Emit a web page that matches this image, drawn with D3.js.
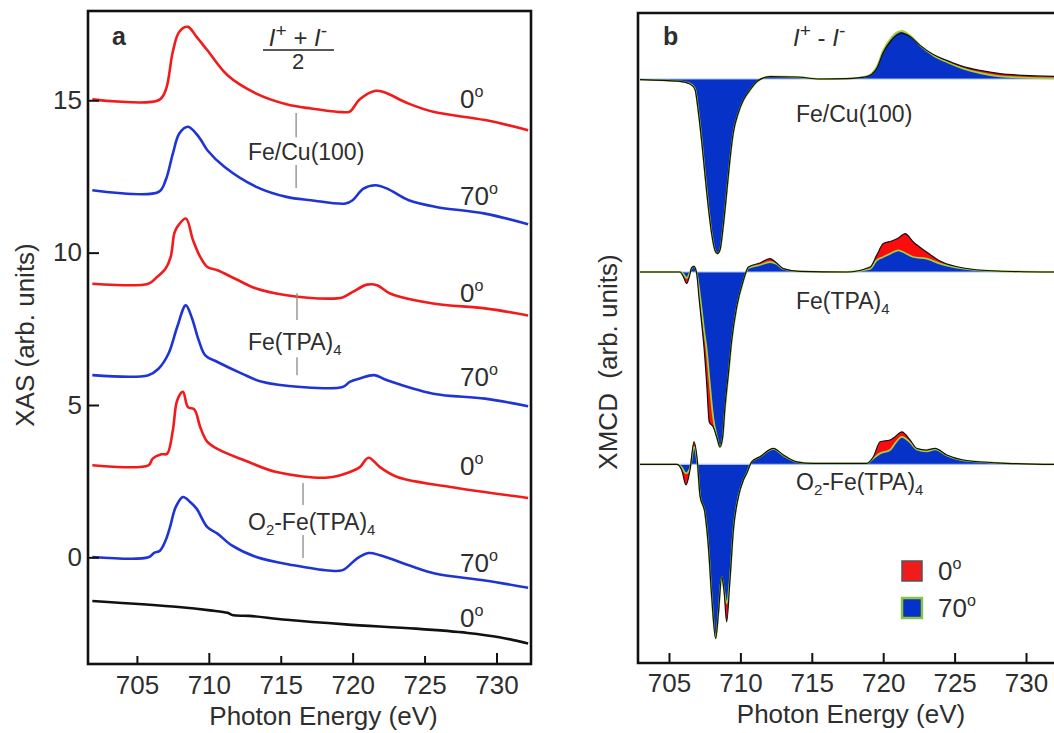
<!DOCTYPE html>
<html>
<head>
<meta charset="utf-8">
<script src="https://cdn.jsdelivr.net/npm/d3@7"></script>
<style>
  body { margin: 0; background: #fff; }
  text { font-family: "Liberation Sans", Arial, sans-serif; fill: #2e2e2e; }
</style>
</head>
<body>
<svg id="chart" width="1054" height="733"></svg>
<script>
// ---- data: panel a (XAS, (I+ + I-)/2), energies in eV ----
const feCu0E   = [701.9, 706.5, 707.0, 707.5, 707.95, 708.55, 709.15, 709.9, 711.3, 713.3, 715.4, 717.1, 719.3, 719.8, 720.5, 721.6, 722.2, 723.9, 725.6, 729.2, 732.2];
const feCu0    = [15.03, 15.0, 15.33, 16.6, 17.25, 17.41, 17.08, 16.64, 15.82, 15.22, 14.87, 14.73, 14.61, 14.63, 15.03, 15.31, 15.26, 14.89, 14.62, 14.35, 14.02];
const feCu70E  = [701.9, 706.5, 707.0, 707.5, 707.95, 708.55, 709.3, 709.9, 711.1, 713.3, 715.4, 717.1, 719.5, 720.0, 720.75, 721.6, 722.4, 723.9, 725.8, 729.2, 732.2];
const feCu70   = [12.05, 11.99, 12.38, 13.25, 13.91, 14.13, 13.8, 13.36, 12.81, 12.16, 11.83, 11.72, 11.61, 11.72, 12.1, 12.21, 12.1, 11.72, 11.5, 11.28, 10.93];
const feTpa0E  = [701.9, 705.8, 706.4, 707.0, 707.35, 707.6, 707.8, 708.4, 708.9, 709.4, 709.9, 710.6, 711.8, 713.3, 715.4, 718.3, 719.3, 720.0, 721.0, 721.7, 722.6, 725.6, 729.2, 732.2];
const feTpa0   = [8.98, 8.98, 9.2, 9.48, 9.86, 10.63, 10.84, 11.12, 10.41, 9.86, 9.53, 9.42, 9.15, 8.82, 8.6, 8.49, 8.53, 8.71, 8.95, 8.93, 8.66, 8.33, 8.17, 7.94];
const feTpa70E = [701.9, 705.8, 706.5, 707.2, 707.8, 708.4, 708.8, 709.3, 709.75, 710.6, 712.3, 713.7, 716.4, 719.3, 719.8, 720.5, 721.5, 722.4, 725.6, 729.2, 732.2];
const feTpa70  = [5.98, 5.98, 6.19, 6.69, 7.56, 8.27, 7.89, 7.12, 6.63, 6.41, 6.03, 5.76, 5.59, 5.59, 5.76, 5.87, 5.98, 5.81, 5.37, 5.21, 4.96];
const o2Tpa0E  = [701.9, 705.8, 706.1, 706.7, 707.1, 707.5, 707.8, 708.2, 708.55, 709.0, 709.4, 709.9, 710.8, 712.5, 714.7, 718.3, 719.8, 720.5, 721.1, 721.9, 723.1, 726.8, 732.2];
const o2Tpa0   = [3.02, 3.02, 3.24, 3.38, 3.4, 4.17, 5.15, 5.43, 4.93, 4.85, 4.28, 3.79, 3.51, 3.18, 2.8, 2.62, 2.8, 2.96, 3.27, 2.96, 2.64, 2.31, 1.95];
const o2Tpa70E = [701.9, 705.8, 706.2, 706.6, 707.0, 707.3, 707.7, 708.2, 708.7, 709.15, 709.9, 710.6, 711.6, 713.3, 715.9, 718.3, 719.3, 720.3, 721.1, 721.9, 723.9, 725.8, 729.2, 732.2];
const o2Tpa70  = [0.01, 0.0, 0.15, 0.22, 0.56, 0.99, 1.65, 1.98, 1.82, 1.6, 0.99, 0.78, 0.39, 0.01, -0.26, -0.43, -0.42, -0.04, 0.14, 0.07, -0.26, -0.54, -0.76, -1.0];
const refE     = [701.9, 707.9, 710.1, 711.3, 711.7, 712.8, 715.4, 719.5, 724.4, 728.0, 730.2, 732.2];
const ref0     = [-1.43, -1.63, -1.74, -1.82, -1.9, -1.92, -2.05, -2.2, -2.34, -2.48, -2.62, -2.83];

const xasAngles = ["0", "70", "0", "70", "0", "70", "0"];
const xasTicks = [0, 5, 10, 15];
const energyTicks = [705, 710, 715, 720, 725, 730];

// ---- data: panel b (XMCD, I+ - I-) ----
const xmcdFeCuE  = [702.97, 704.6, 705.77, 706.47, 706.82, 707.05, 707.29, 707.52, 707.76, 707.99, 708.22, 708.38, 708.57, 708.8, 709.04, 709.27, 709.5, 709.85, 710.21, 710.67, 711.14, 711.49, 712.07, 713.94, 715.58, 717.44, 718.84, 719.54, 720.0, 720.6, 721.3, 721.88, 722.58, 723.51, 724.45, 725.61, 726.78, 728.18, 729.82, 731.96];
const xmcdFeCu0  = [-0.03, -0.07, -0.12, -0.25, -0.52, -1.62, -3.12, -4.78, -6.45, -7.75, -8.57, -8.73, -8.55, -7.35, -5.68, -4.02, -2.7, -1.7, -1.05, -0.55, -0.14, 0.02, 0.12, 0.1, 0, 0.02, 0.12, 0.52, 1.32, 1.95, 2.28, 2.12, 1.68, 1.22, 0.93, 0.62, 0.43, 0.27, 0.18, 0.13];
const xmcdFeCu70 = [-0.03, -0.07, -0.12, -0.23, -0.48, -1.57, -3.07, -4.73, -6.4, -7.73, -8.57, -8.73, -8.57, -7.4, -5.73, -4.07, -2.73, -1.73, -1.07, -0.57, -0.15, 0.02, 0.13, 0.1, 0, 0.02, 0.13, 0.6, 1.43, 2.1, 2.4, 2.18, 1.68, 1.18, 0.85, 0.52, 0.3, 0.13, 0.07, 0.03];
const xmcdTpaE   = [702.97, 705.77, 706.0, 706.24, 706.42, 706.59, 706.75, 706.94, 707.12, 707.29, 707.45, 707.64, 707.82, 708.1, 708.34, 708.57, 708.76, 708.92, 709.16, 709.39, 709.74, 710.21, 710.56, 711.37, 712.07, 712.54, 713.01, 714.17, 717.44, 719.08, 719.54, 720.01, 720.59, 721.06, 721.53, 722.11, 723.04, 723.98, 725.61, 727.95, 731.96];
const xmcdTpa0   = [0, 0, -0.22, -0.58, -0.25, 0.22, 0.28, -0.08, -1.42, -2.58, -3.75, -5.58, -7.5, -7.75, -8.25, -8.75, -8.25, -6.75, -5.08, -3.42, -1.75, -0.42, 0.25, 0.45, 0.67, 0.45, 0.17, 0.03, 0, 0.25, 0.83, 1.42, 1.55, 1.7, 1.92, 1.5, 1.0, 0.55, 0.2, 0.05, 0];
const xmcdTpa70  = [0, 0, -0.1, -0.3, -0.1, 0.2, 0.28, -0.05, -0.9, -1.9, -2.9, -3.9, -5.3, -7.3, -8.2, -8.75, -8.3, -6.9, -5.2, -3.5, -1.8, -0.45, 0.2, 0.35, 0.5, 0.4, 0.15, 0.03, 0, 0.15, 0.58, 0.75, 0.95, 1.08, 0.95, 0.75, 0.67, 0.42, 0.17, 0.05, 0];
const xmcdO2E    = [702.97, 705.54, 705.89, 706.19, 706.47, 706.75, 706.98, 707.17, 707.52, 707.76, 707.99, 708.27, 708.46, 708.69, 708.85, 709.04, 709.27, 709.51, 709.86, 710.21, 710.44, 710.79, 711.37, 712.31, 713.01, 713.94, 715.11, 718.84, 719.31, 719.78, 720.48, 720.83, 721.3, 721.88, 722.35, 723.04, 723.63, 724.45, 725.61, 727.95, 731.96];
const xmcdO20    = [0, 0, -0.28, -1.03, -0.28, 1.13, 0.22, -1.55, -2.45, -4.12, -6.62, -8.7, -7.45, -5.62, -6.28, -7.87, -5.78, -3.28, -1.62, -0.78, -0.45, 0.13, 0.38, 0.8, 0.47, 0.13, 0.05, 0.05, 0.38, 1.13, 1.22, 1.38, 1.63, 1.22, 0.8, 0.72, 0.8, 0.47, 0.22, 0.08, 0];
const xmcdO270   = [0, 0, -0.15, -0.45, -0.2, 0.88, 0.1, -1.55, -2.45, -4.12, -6.62, -8.7, -7.45, -5.62, -6.28, -6.95, -5.7, -3.28, -1.62, -0.78, -0.45, 0.13, 0.38, 0.78, 0.45, 0.13, 0.05, 0.05, 0.3, 0.55, 0.72, 1.05, 1.38, 1.1, 0.75, 0.65, 0.75, 0.45, 0.2, 0.08, 0];
const xmcdOffsets = [29.2, 19.55, 9.93];
const legendLabels = ["0", "70"];

const svg = d3.select("#chart");
const font = "'Liberation Sans', Arial, sans-serif";

const zip = (xs, ys) => xs.map((x, i) => [x, ys[i]]);

// rich text: parts = [[text, "sub"|"sup"|"it"|null], ...]
function richText(g, x, y, parts, size, attrs = {}) {
  const t = g.append("text").attr("x", x).attr("y", y).attr("font-size", size);
  Object.entries(attrs).forEach(([k, v]) => t.attr(k, v));
  let shift = 0;
  parts.forEach(([s, kind]) => {
    const ts = t.append("tspan").text(s);
    let target = 0;
    if (kind === "sub") { target = size * 0.22; ts.attr("font-size", size * 0.65); }
    if (kind === "sup") { target = -size * 0.42; ts.attr("font-size", size * 0.62); }
    if (kind === "isup") { target = -size * 0.38; ts.attr("font-size", size * 0.8); }
    if (kind === "it") ts.attr("font-style", "italic");
    if (target - shift !== 0) ts.attr("dy", target - shift);
    shift = target;
  });
  return t;
}
const deg = n => [[n, null], ["o", "sup"]];

// ================= panel a =================
const xA = d3.scaleLinear().domain([701.6, 732.4]).range([88, 531]);
const yA = d3.scaleLinear().domain([-3.5, 17.93]).range([664, 11]);
const ga = svg.append("g");

const lineA = d3.line().x(d => xA(d[0])).y(d => yA(d[1])).curve(d3.curveCatmullRom.alpha(0.5));
const xasCurves = [
  [zip(feCu0E, feCu0), "#f21b1b"],
  [zip(feCu70E, feCu70), "#1e34d4"],
  [zip(feTpa0E, feTpa0), "#f21b1b"],
  [zip(feTpa70E, feTpa70), "#1e34d4"],
  [zip(o2Tpa0E, o2Tpa0), "#f21b1b"],
  [zip(o2Tpa70E, o2Tpa70), "#1e34d4"],
  [zip(refE, ref0), "#111"]
];
xasCurves.forEach(([d, c]) => {
  ga.append("path").datum(d).attr("d", lineA)
    .attr("fill", "none").attr("stroke", c).attr("stroke-width", 2.6)
    .attr("stroke-linejoin", "round");
});

// x axis (ticks inward)
ga.append("g").attr("transform", `translate(0,${yA.range()[0]})`)
  .call(d3.axisBottom(xA).tickValues(energyTicks).tickSize(-10).tickPadding(12).tickFormat(d3.format("d")))
  .call(g => g.select(".domain").remove())
  .call(g => g.selectAll(".tick line").attr("y2", d => d % 10 === 0 ? -11 : -8).attr("stroke", "#111").attr("stroke-width", 2))
  .call(g => g.selectAll(".tick text").attr("font-size", 26).attr("font-family", font).attr("fill", "#2e2e2e"));

ga.append("g").attr("transform", `translate(${xA.range()[0]},0)`)
  .call(d3.axisLeft(yA).tickValues(xasTicks).tickSize(-11).tickPadding(6).tickFormat(d3.format("d")))
  .call(g => g.select(".domain").remove())
  .call(g => g.selectAll(".tick line").attr("stroke", "#111").attr("stroke-width", 2))
  .call(g => g.selectAll(".tick text").attr("font-size", 26).attr("font-family", font).attr("fill", "#2e2e2e"));

ga.append("rect")
  .attr("x", xA.range()[0]).attr("y", yA.range()[1])
  .attr("width", xA.range()[1] - xA.range()[0]).attr("height", yA.range()[0] - yA.range()[1])
  .attr("fill", "none").attr("stroke", "#111").attr("stroke-width", 2.6);

// angle labels at the right end of each curve
const angleBaselines = [108, 205, 302, 386, 475, 572, 627];
xasAngles.forEach((a, i) => richText(ga, 460, angleBaselines[i], deg(a), 26));

// sample labels with split marker lines
const sampleMarks = [
  { e: 716.07, seg: [[14.58, 13.79], [12.88, 12.12]] },
  { e: 716.13, seg: [[8.67, 7.79], [6.57, 5.98]] },
  { e: 716.55, seg: [[2.44, 1.72], [0.73, -0.02]] }
];
sampleMarks.forEach(m => m.seg.forEach(([a, b]) => {
  ga.append("line").attr("x1", xA(m.e)).attr("x2", xA(m.e)).attr("y1", yA(a)).attr("y2", yA(b))
    .attr("stroke", "#8a8a8a").attr("stroke-width", 1.3);
}));
richText(ga, 248, 160, [["Fe/Cu(100)", null]], 23);
richText(ga, 248, 350, [["Fe(TPA)", null], ["4", "sub"]], 23);
richText(ga, 248, 530, [["O", null], ["2", "sub"], ["-Fe(TPA)", null], ["4", "sub"]], 23);

ga.append("text").attr("x", 112).attr("y", 45).attr("font-size", 25).attr("font-weight", "bold").attr("fill", "#111").text("a");
richText(ga, 298, 46, [["I", "it"], ["+", "isup"], [" + ", null], ["I", "it"], ["-", "isup"]], 24, { "text-anchor": "middle" });
ga.append("line").attr("x1", 263).attr("x2", 334).attr("y1", 50).attr("y2", 50).attr("stroke", "#222").attr("stroke-width", 1.5);
ga.append("text").attr("x", 298).attr("y", 69).attr("font-size", 22).attr("text-anchor", "middle").text("2");

ga.append("text").attr("transform", "translate(34,335) rotate(-90)").attr("text-anchor", "middle")
  .attr("font-size", 26).text("XAS (arb. units)");
ga.append("text").attr("x", (xA.range()[0] + xA.range()[1]) / 2 + 14).attr("y", 725).attr("text-anchor", "middle")
  .attr("font-size", 26).text("Photon Energy (eV)");

// ================= panel b =================
const xB = d3.scaleLinear().domain([702.83, 731.96]).range([638, 1054]);
const yB = d3.scaleLinear().domain([0, 32.5]).range([663, 13]);
const gb = svg.append("g");

const xmcdSets = [
  [zip(xmcdFeCuE, xmcdFeCu0), zip(xmcdFeCuE, xmcdFeCu70)],
  [zip(xmcdTpaE, xmcdTpa0), zip(xmcdTpaE, xmcdTpa70)],
  [zip(xmcdO2E, xmcdO20), zip(xmcdO2E, xmcdO270)]
];
xmcdSets.forEach(([d0, d70], i) => {
  const off = xmcdOffsets[i];
  const area = d3.area().x(d => xB(d[0])).y0(yB(off)).y1(d => yB(off + d[1])).curve(d3.curveMonotoneX);
  const line = d3.line().x(d => xB(d[0])).y(d => yB(off + d[1])).curve(d3.curveMonotoneX);
  gb.append("path").datum(d0).attr("d", area).attr("fill", "#fb0d0d");
  gb.append("path").datum(d70).attr("d", area).attr("fill", "#0632c8");
  gb.append("line").attr("x1", xB(d0[0][0])).attr("x2", xB(d0[d0.length - 1][0]))
    .attr("y1", yB(off)).attr("y2", yB(off)).attr("stroke", "#a9bdf2").attr("stroke-width", 1.2);
  gb.append("path").datum(d70).attr("d", line).attr("fill", "none").attr("stroke", "#a6cf38").attr("stroke-width", 1.8);
  gb.append("path").datum(d0).attr("d", line).attr("fill", "none").attr("stroke", "#111").attr("stroke-width", 1.2);
});

gb.append("g").attr("transform", `translate(0,${yB.range()[0]})`)
  .call(d3.axisBottom(xB).tickValues(energyTicks).tickSize(-10).tickPadding(11).tickFormat(d3.format("d")))
  .call(g => g.select(".domain").remove())
  .call(g => g.selectAll(".tick line").attr("stroke", "#111").attr("stroke-width", 2))
  .call(g => g.selectAll(".tick text").attr("font-size", 26).attr("font-family", font).attr("fill", "#2e2e2e"));

gb.append("path")
  .attr("d", `M${xB.range()[1] + 10},${yB.range()[1]}H${xB.range()[0]}V${yB.range()[0]}H${xB.range()[1] + 10}`)
  .attr("fill", "none").attr("stroke", "#111").attr("stroke-width", 2.6);

gb.append("text").attr("x", 663).attr("y", 45).attr("font-size", 25).attr("font-weight", "bold").attr("fill", "#111").text("b");
richText(gb, 793, 46, [["I", "it"], ["+", "isup"], [" - ", null], ["I", "it"], ["-", "isup"]], 24);
richText(gb, 796, 122, [["Fe/Cu(100)", null]], 23);
richText(gb, 796, 309, [["Fe(TPA)", null], ["4", "sub"]], 23);
richText(gb, 796, 490, [["O", null], ["2", "sub"], ["-Fe(TPA)", null], ["4", "sub"]], 23);

// legend
const legendFill = ["#f21b1b", "#0632c8"];
const legendStroke = ["#555", "#8cc63f"];
legendLabels.forEach((l, i) => {
  const y = 561 + i * 37;
  gb.append("rect").attr("x", 902).attr("y", y).attr("width", 20).attr("height", 20)
    .attr("fill", legendFill[i]).attr("stroke", legendStroke[i]).attr("stroke-width", i ? 2.5 : 1.5);
  richText(gb, 938, y + 19, deg(l), 26);
});

gb.append("text").attr("transform", "translate(617,362) rotate(-90)").attr("text-anchor", "middle")
  .attr("font-size", 26).attr("xml:space", "preserve").style("white-space", "pre").text("XMCD  (arb. units)");
gb.append("text").attr("x", 851).attr("y", 723).attr("text-anchor", "middle")
  .attr("font-size", 26).text("Photon Energy (eV)");
</script>
</body>
</html>
